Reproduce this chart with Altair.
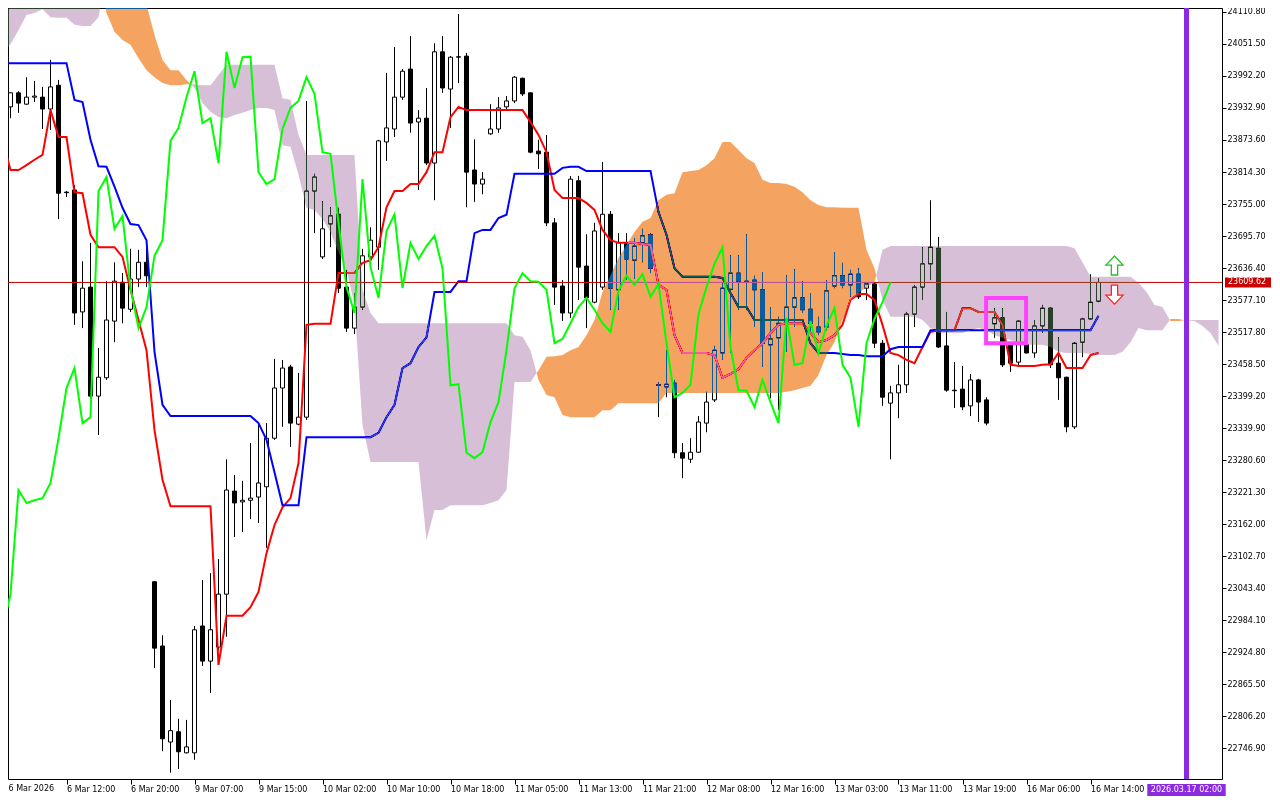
import altair as alt
import pandas as pd

# ---------------- data ----------------
open_ = [23888, 23935, 23961, 23940, 23953, 23953, 23931, 23975, 23777, 23781,
         23555, 23601, 23399, 23433, 23538, 23610, 23560, 23616, 23647, 23055,
         22936, 22758, 22777, 22738, 22738, 22973, 22908, 22934, 23032, 23223,
         23203, 23206, 23212, 23231, 23321, 23414, 23453, 23347, 23360, 23779,
         23657, 23718, 23736, 23601, 23525, 23564, 23657, 23675, 23870, 23894,
         23953, 24005, 23907, 23914, 23831, 24037, 23968, 24027, 24029, 23818,
         23792, 23885, 23894, 23935, 23946, 23988, 23961, 23853, 23851, 23720,
         23603, 23553, 23798, 23640, 23573, 23601, 23736, 23596, 23683, 23651,
         23683, 23698, 23420, 23416, 23423, 23294, 23282, 23295, 23349, 23392,
         23479, 23597, 23627, 23612, 23614, 23596, 23494, 23507, 23534, 23564,
         23581, 23560, 23527, 23527, 23603, 23622, 23605, 23625, 23599, 23607,
         23497, 23386, 23405, 23420, 23551, 23601, 23644, 23673, 23492, 23410,
         23412, 23381, 23429, 23392, 23533, 23544, 23494, 23462, 23494, 23479,
         23529, 23562, 23460, 23434, 23342, 23499, 23542, 23575]
high = [23933, 23962, 23964, 23990, 23983, 23972, 24022, 23985, 23779, 23790,
        23649, 23683, 23488, 23612, 23647, 23627, 23672, 23670, 23690, 23056,
        22956, 22836, 22801, 22799, 22973, 23058, 23071, 23097, 23282, 23253,
        23242, 23312, 23351, 23349, 23468, 23466, 23457, 23442, 23946, 23811,
        23760, 23749, 23748, 23633, 23590, 23672, 23712, 23874, 23998, 24046,
        24005, 24066, 23929, 23970, 24053, 24066, 24029, 24107, 24035, 23875,
        23814, 23940, 23953, 23955, 23992, 23989, 23962, 23874, 23883, 23729,
        23614, 23807, 23807, 23699, 23720, 23833, 23742, 23701, 23701, 23692,
        23709, 23701, 23425, 23484, 23429, 23312, 23321, 23362, 23407, 23492,
        23609, 23660, 23660, 23699, 23622, 23629, 23564, 23546, 23623, 23634,
        23612, 23590, 23546, 23614, 23666, 23646, 23633, 23636, 23610, 23609,
        23503, 23418, 23457, 23555, 23605, 23675, 23762, 23694, 23555, 23462,
        23455, 23440, 23431, 23397, 23562, 23562, 23497, 23540, 23497, 23540,
        23568, 23564, 23508, 23435, 23499, 23544, 23625, 23618]
low = [23883, 23914, 23924, 23939, 23944, 23894, 23892, 23727, 23768, 23531,
       23525, 23395, 23327, 23429, 23499, 23534, 23555, 23601, 23601, 22895,
       22741, 22701, 22708, 22737, 22725, 22899, 22849, 22928, 22953, 23138,
       23147, 23171, 23164, 23118, 23318, 23342, 23305, 23345, 23355, 23701,
       23653, 23675, 23590, 23518, 23514, 23559, 23647, 23633, 23835, 23879,
       23948, 23887, 23781, 23827, 23762, 23961, 23896, 23979, 23749, 23759,
       23773, 23883, 23887, 23931, 23942, 23955, 23849, 23820, 23714, 23568,
       23538, 23544, 23577, 23525, 23571, 23596, 23559, 23559, 23614, 23616,
       23647, 23627, 23360, 23397, 23284, 23247, 23275, 23294, 23332, 23388,
       23466, 23479, 23559, 23559, 23527, 23453, 23395, 23373, 23481, 23527,
       23553, 23516, 23512, 23521, 23599, 23599, 23583, 23579, 23577, 23488,
       23381, 23282, 23358, 23405, 23527, 23577, 23614, 23488, 23407, 23377,
       23373, 23362, 23351, 23345, 23507, 23453, 23444, 23453, 23478, 23470,
       23516, 23451, 23392, 23332, 23338, 23471, 23540, 23573]
close = [23926, 23961, 23942, 23953, 23955, 23931, 23972, 23775, 23776, 23553,
         23599, 23399, 23434, 23540, 23612, 23562, 23616, 23647, 23622, 22932,
         22764, 22779, 22740, 22749, 22966, 22908, 22966, 23032, 23225, 23201,
         23206, 23210, 23238, 23321, 23414, 23451, 23349, 23360, 23779, 23805,
         23709, 23733, 23599, 23525, 23564, 23659, 23688, 23872, 23896, 23953,
         24001, 23905, 23914, 23831, 24037, 23970, 24027, 24028, 23814, 23792,
         23801, 23894, 23933, 23946, 23990, 23959, 23851, 23848, 23720, 23601,
         23553, 23801, 23638, 23581, 23705, 23736, 23599, 23683, 23653, 23677,
         23696, 23636, 23419, 23421, 23294, 23284, 23295, 23351, 23388, 23484,
         23599, 23627, 23612, 23611, 23596, 23497, 23505, 23534, 23564, 23581,
         23559, 23534, 23518, 23594, 23622, 23605, 23625, 23583, 23607, 23497,
         23397, 23405, 23420, 23551, 23601, 23644, 23675, 23490, 23410, 23409,
         23379, 23429, 23388, 23349, 23544, 23457, 23460, 23538, 23479, 23529,
         23562, 23457, 23433, 23342, 23497, 23542, 23573, 23609.62]
tenkan = [23874, 23818, 23818, 23827, 23837, 23846, 23929, 23879, 23879, 23777,
          23775, 23698, 23675, 23675, 23675, 23657, 23596, 23540, 23484, 23336,
          23244, 23195, 23195, 23195, 23195, 23195, 23195, 22901, 22992, 22992,
          22992, 23008, 23036, 23108, 23160, 23193, 23210, 23275, 23531, 23533,
          23533, 23533, 23627, 23627, 23627, 23646, 23651, 23675, 23749, 23779,
          23779, 23792, 23792, 23814, 23851, 23851, 23916, 23935, 23929, 23929,
          23929, 23929, 23929, 23929, 23929, 23929, 23907, 23883, 23851, 23781,
          23766, 23766, 23766, 23757, 23744, 23707, 23688, 23683, 23683, 23683,
          23681, 23679, 23605, 23596, 23512, 23479, 23479, 23479, 23479, 23475,
          23433, 23440, 23449, 23470, 23484, 23497, 23516, 23531, 23534, 23534,
          23534, 23516, 23499, 23503, 23512, 23531, 23577, 23588, 23588, 23577,
          23531, 23479, 23475, 23466, 23460, 23490, 23518, 23521, 23521, 23521,
          23562, 23562, 23555, 23555, 23555, 23531, 23457, 23455, 23455, 23455,
          23457, 23458, 23479, 23451, 23451, 23451, 23475, 23479]
kijun = [24016, 24016, 24016, 24016, 24016, 24016, 24016, 24016, 24016, 23948,
         23944, 23874, 23825, 23824, 23787, 23748, 23718, 23716, 23688, 23481,
         23383, 23362, 23362, 23362, 23362, 23362, 23362, 23362, 23362, 23362,
         23362, 23362, 23349, 23318, 23258, 23197, 23197, 23197, 23323, 23323,
         23323, 23323, 23323, 23323, 23323, 23323, 23323, 23331, 23360, 23383,
         23451, 23460, 23490, 23508, 23592, 23592, 23592, 23612, 23612, 23701,
         23707, 23707, 23729, 23735, 23811, 23811, 23811, 23811, 23811, 23811,
         23822, 23824, 23824, 23816, 23816, 23816, 23816, 23816, 23816, 23816,
         23816, 23816, 23740, 23698, 23636, 23620, 23620, 23620, 23620, 23620,
         23618, 23590, 23564, 23564, 23540, 23540, 23540, 23540, 23540, 23540,
         23540, 23497, 23479, 23479, 23479, 23477, 23475, 23475, 23473, 23473,
         23473, 23486, 23490, 23490, 23490, 23490, 23521, 23521, 23521, 23521,
         23521, 23521, 23521, 23521, 23521, 23521, 23521, 23521, 23521, 23521,
         23521, 23521, 23521, 23521, 23521, 23521, 23521, 23548]
span_a = [24035, 24051, 24077, 24105, 24109, 24116, 24101, 24100, 24100, 24087,
          24085, 24085, 24101, 24180, 24180, 24180, 24180, 24180, 24124, 24068,
          24022, 24003, 24003, 23985, 23970, 23942, 23926, 23916, 23914, 23920,
          23924, 23929, 23933, 23933, 23929, 23864, 23861, 23809, 23748, 23744,
          23727, 23703, 23666, 23633, 23568, 23345, 23277, 23277, 23277, 23277,
          23277, 23277, 23277, 23132, 23188, 23188, 23197, 23197, 23197, 23197,
          23197, 23201, 23206, 23225, 23425, 23425, 23425, 23447, 23472, 23473,
          23475, 23484, 23490, 23512, 23540, 23592, 23623, 23655, 23679, 23703,
          23722, 23729, 23762, 23772, 23775, 23814, 23816, 23818, 23827, 23840,
          23870, 23870, 23855, 23840, 23831, 23800, 23794, 23794, 23792, 23787,
          23777, 23762, 23753, 23749, 23749, 23748, 23748, 23748, 23670, 23636,
          23577, 23546, 23546, 23546, 23546, 23540, 23525, 23516, 23516, 23516,
          23516, 23521, 23525, 23521, 23512, 23507, 23503, 23497, 23494, 23494,
          23494, 23490, 23481, 23479, 23479, 23479, 23477, 23475, 23475, 23475,
          23481, 23499, 23525, 23521, 23521, 23521, 23542, 23542, 23539, 23538,
          23529, 23516, 23492]
span_b = [24180, 24180, 24180, 24180, 24180, 24180, 24180, 24180, 24180, 24180,
          24180, 24180, 24180, 24109, 24074, 24059, 24050, 24025, 24003, 23990,
          23979, 23975, 23975, 23977, 23977, 23975, 23975, 23994, 24013, 24013,
          24013, 24013, 24013, 24013, 24013, 23951, 23948, 23883, 23846, 23846,
          23846, 23846, 23846, 23846, 23846, 23596, 23553, 23534, 23534, 23534,
          23534, 23534, 23534, 23534, 23534, 23534, 23534, 23534, 23534, 23534,
          23534, 23534, 23534, 23534, 23512, 23509, 23484, 23429, 23401, 23397,
          23364, 23360, 23360, 23360, 23360, 23373, 23373, 23386, 23386, 23386,
          23386, 23386, 23386, 23405, 23405, 23405, 23405, 23405, 23405, 23405,
          23405, 23405, 23405, 23405, 23405, 23405, 23405, 23405, 23407, 23410,
          23414, 23418, 23438, 23475, 23499, 23540, 23577, 23590, 23601, 23610,
          23670, 23677, 23677, 23677, 23677, 23677, 23677, 23677, 23677, 23677,
          23677, 23677, 23677, 23677, 23677, 23677, 23677, 23677, 23677, 23677,
          23677, 23677, 23677, 23677, 23673, 23647, 23620, 23620, 23620, 23620,
          23620, 23620, 23609, 23592, 23568, 23564, 23538, 23538, 23540, 23540,
          23540, 23540, 23540]

x_tick_bars = [0, 8, 16, 24, 32, 40, 48, 56, 64, 72, 80, 88, 96, 104, 112, 120, 128, 136]
x_labels = ["6 Mar 2026", "6 Mar 12:00", "6 Mar 20:00", "9 Mar 07:00", "9 Mar 15:00",
            "10 Mar 02:00", "10 Mar 10:00", "10 Mar 18:00", "11 Mar 05:00", "11 Mar 13:00",
            "11 Mar 21:00", "12 Mar 08:00", "12 Mar 16:00", "13 Mar 03:00", "13 Mar 11:00",
            "13 Mar 19:00", "16 Mar 06:00", "16 Mar 14:00"]
y_ticks = [24110.80, 24051.50, 23992.20, 23932.90, 23873.60, 23814.30, 23755.00, 23695.70,
           23636.40, 23577.10, 23517.80, 23458.50, 23399.20, 23339.90, 23280.60, 23221.30,
           23162.00, 23102.70, 23043.40, 22984.10, 22924.80, 22865.50, 22806.20, 22746.90]
last_price = [23609.62]
time_marker_bar = [148]
time_marker_label = ["2026.03.17 02:00"]
box_bars = [122.95, 127.95]
box_prices = [23497, 23581]
arrow_up_bar, arrow_up_price = [139], [23641]
arrow_dn_bar, arrow_dn_price = [139], [23587]

# ---------------- chart ----------------
W, H = 1214, 771
FONT = "DejaVu Sans"
FS = 8

n = len(close)
bars = pd.DataFrame({"i": list(range(n)), "open": open_, "high": high, "low": low, "close": close})
bars["top"] = bars[["open", "close"]].max(axis=1)
bars["bot"] = bars[["open", "close"]].min(axis=1)
bars["fillc"] = ["white" if c >= o else "black" for o, c in zip(open_, close)]
lines = pd.DataFrame({"i": list(range(n)), "tenkan": tenkan, "kijun": kijun})
chikou = pd.DataFrame({"i": list(range(n - 26)), "chikou": close[26:]})
cloud = pd.DataFrame({"i": list(range(len(span_a))), "a": span_a, "b": span_b})
xlab = pd.DataFrame({"i": x_tick_bars, "t": x_labels})

xs = alt.Scale(domain=[0.6875, 152.4375], nice=False, zero=False)
ys = alt.Scale(domain=[22689.5, 24118.2], nice=False, zero=False)

label_js = "[" + ",".join("'" + s + "'" for s in x_labels) + "][round(datum.value / 8)]"
x_axis = alt.Axis(values=x_tick_bars[1:], labelExpr=label_js, title=None, grid=False,
                  domain=False, tickSize=5, tickColor="black", labelAlign="left",
                  labelBaseline="top", labelPadding=1, labelFont=FONT, labelFontSize=FS,
                  labelColor="black", labelOverlap=False, labelFlush=False, labelBound=False)
y_axis = alt.Axis(values=y_ticks, format=".2f", orient="right", title=None, grid=False,
                  domain=False, tickSize=4, tickColor="black", labelPadding=1, labelFont=FONT,
                  labelFontSize=FS, labelColor="black", labelOverlap=False, labelFlush=False)
X = alt.X("i:Q", scale=xs, axis=x_axis)


def Y(field):
    return alt.Y(field, scale=ys, axis=y_axis)


wicks = alt.Chart(bars).mark_rule(color="black", strokeWidth=1, clip=True).encode(
    x=X, y=Y("low:Q"), y2="high:Q")
bodies = alt.Chart(bars).transform_calculate(
    x0="datum.i - 0.25", x1="datum.i + 0.25"
).mark_rect(stroke="black", strokeWidth=1, clip=True).encode(
    x=alt.X("x0:Q", scale=xs, axis=x_axis), x2="x1:Q",
    y=Y("top:Q"), y2="bot:Q", fill=alt.Fill("fillc:N", scale=None))
tenkan_l = alt.Chart(lines).mark_line(color="#FF0000", strokeWidth=2, clip=True).encode(
    x=X, y=Y("tenkan:Q"))
kijun_l = alt.Chart(lines).mark_line(color="#0000FF", strokeWidth=2, clip=True).encode(
    x=X, y=Y("kijun:Q"))
hline = alt.Chart(pd.DataFrame({"p": last_price})).mark_rule(
    color="#C80000", strokeWidth=1).encode(y=Y("p:Q"))

# cloud: split each segment at the point where span A and span B cross,
# so the two colours never overlap
cloud_base = (
    alt.Chart(cloud)
    .transform_window(na="lead(a)", nb="lead(b)", sort=[alt.SortField("i", order="ascending")])
    .transform_fold(["a", "b"], as_=["key", "val"])
    .transform_calculate(da="datum.a - datum.b")
    .transform_calculate(dn="isValid(datum.na) ? datum.na - datum.nb : 0")
    .transform_calculate(cr="datum.key == 'b' && datum.da * datum.dn < 0")
    .transform_calculate(t="datum.cr ? datum.da / (datum.da - datum.dn) : 0")
    .transform_calculate(xx="datum.i + datum.t")
    .transform_calculate(aa="datum.cr ? datum.a + datum.t * (datum.na - datum.a) : datum.a")
    .transform_calculate(bb="datum.cr ? datum.a + datum.t * (datum.na - datum.a) : datum.b")
    .transform_calculate(lo="min(datum.aa, datum.bb)")
)
XC = alt.X("xx:Q", scale=xs, axis=x_axis)
cloud_up = cloud_base.mark_area(color="#0B5B9F", blend="difference", opacity=1,
                                interpolate="linear").encode(x=XC, y=Y("aa:Q"), y2="lo:Q")
cloud_dn = cloud_base.mark_area(color="#274027", blend="difference", opacity=1,
                                interpolate="linear").encode(x=XC, y=Y("bb:Q"), y2="lo:Q")

chikou_l = alt.Chart(chikou).mark_line(color="#00FF00", strokeWidth=2, clip=True).encode(
    x=X, y=Y("chikou:Q"))

vline = alt.Chart(pd.DataFrame({"i": time_marker_bar})).mark_rule(
    color="#8A2BE2", strokeWidth=5).encode(x=X)

box = alt.Chart(pd.DataFrame({"x0": [box_bars[0]], "x1": [box_bars[1]],
                              "p0": [box_prices[0]], "p1": [box_prices[1]]})).mark_rect(
    fillOpacity=0, stroke="#FF40FF", strokeWidth=4).encode(
    x=alt.X("x0:Q", scale=xs, axis=x_axis), x2="x1:Q", y=Y("p0:Q"), y2="p1:Q")

UP = "M0,-1 L0.9,-0.05 L0.33,-0.05 L0.33,1 L-0.33,1 L-0.33,-0.05 L-0.9,-0.05 Z"
DN = "M0,1 L0.9,0.05 L0.33,0.05 L0.33,-1 L-0.33,-1 L-0.33,0.05 L-0.9,0.05 Z"
arr_up = alt.Chart(pd.DataFrame({"i": arrow_up_bar, "p": arrow_up_price})).mark_point(
    shape=UP, size=361, filled=True, fill="white", stroke="#22C022", strokeWidth=1.3,
    opacity=1).encode(x=X, y=Y("p:Q"))
arr_dn = alt.Chart(pd.DataFrame({"i": arrow_dn_bar, "p": arrow_dn_price})).mark_point(
    shape=DN, size=361, filled=True, fill="white", stroke="#FF2020", strokeWidth=1.3,
    opacity=1).encode(x=X, y=Y("p:Q"))

plab = alt.Chart(pd.DataFrame({"p": last_price})).transform_calculate(
    lo="datum.p - 9.3", hi="datum.p + 9.3", txt="format(datum.p, '.2f')")
plab_box = plab.mark_rect(color="#C80000").encode(
    x=alt.value(W + 3), x2=alt.value(W + 49), y=Y("lo:Q"), y2="hi:Q")
plab_txt = plab.mark_text(color="white", align="left", baseline="middle", font=FONT,
                          fontSize=FS).encode(x=alt.value(W + 6), y=Y("p:Q"), text="txt:N")

tlab = alt.Chart(pd.DataFrame({"i": time_marker_bar, "t": time_marker_label})).transform_calculate(
    x0="datum.i - 4.9", x1="datum.i + 4.9")
tlab_box = tlab.mark_rect(color="#8A2BE2").encode(
    x=alt.X("x0:Q", scale=xs, axis=x_axis), x2="x1:Q", y=alt.value(H + 5), y2=alt.value(H + 17))
tlab_txt = tlab.mark_text(color="white", align="center", baseline="middle", font=FONT,
                          fontSize=FS).encode(x=X, y=alt.value(H + 11), text="t:N")

# first date label: its tick falls just left of the visible area
first_lab = alt.Chart(xlab.head(1)).mark_text(
    align="left", baseline="top", dx=6, font=FONT, fontSize=FS, color="black"
).encode(x=X, y=alt.value(H + 6), text="t:N")

chart = alt.layer(
    wicks, bodies, tenkan_l, kijun_l, hline, cloud_up, cloud_dn, chikou_l,
    vline, box, arr_up, arr_dn, plab_box, plab_txt, tlab_box, tlab_txt, first_lab
).properties(
    width=W, height=H,
    autosize=alt.AutoSizeParams(type="none"),
    padding={"left": 0, "top": 0, "right": 50, "bottom": 21},
    background="white",
).configure_view(stroke="black", strokeWidth=1, fill="white")

chart.save("out.html", embed_options={"renderer": "svg", "actions": False})
